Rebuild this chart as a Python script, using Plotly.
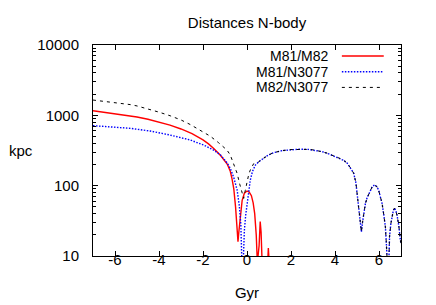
import plotly.graph_objects as go

# ---------------- data ----------------
series_names = ["M81/M82", "M81/N3077", "M82/N3077"]

t_red = [-7, -6, -5, -4.5, -4, -3.5, -3, -2.5, -2, -1.75, -1.5, -1.2, -0.9, -0.76,
         -0.68, -0.6, -0.52, -0.46, -0.41, -0.37, -0.3, -0.22, -0.12,
         0.0, 0.1, 0.2, 0.28, 0.35, 0.42, 0.47, 0.55, 0.6, 0.64, 0.68, 0.72, 0.9,
         0.94, 0.97, 1.0, 1.04, 7.0]
d_red = [1165, 1062, 946, 879, 806, 727, 640, 548, 448, 393, 334, 268, 203, 160,
         125, 90, 50, 25, 16, 22, 41, 62, 78,
         84, 81, 72, 57, 40, 20, 8, 14, 31, 22, 9, 4, 4,
         9, 13, 9, 3, 3]

t_blue = [-7, -6, -5.3, -4.4, -3.5, -2.58, -1.97, -1.52, -1.21, -0.91, -0.76, -0.6,
          -0.45, -0.35, -0.28, -0.24, -0.2, -0.16, -0.12, -0.06, 0.0, 0.08, 0.15,
          0.25, 0.38, 0.53, 0.7, 0.85, 1.0, 1.2, 1.6, 2.0, 2.4, 2.8, 3.1, 3.4, 3.64,
          3.85, 4.05, 4.24, 4.4, 4.55, 4.7, 4.85, 4.95, 5.05, 5.15, 5.2, 5.25, 5.3,
          5.38, 5.45, 5.6, 5.7, 5.8, 5.9, 5.98, 6.06, 6.14, 6.22, 6.29, 6.34, 6.39,
          6.42, 6.45, 6.48, 6.54, 6.59, 6.65, 6.7, 6.76, 6.82, 6.9, 6.97, 7.0]
d_blue = [713, 685, 653, 598, 525, 446, 378, 321, 274, 212, 177, 130,
          87, 52, 28, 10, 5, 10, 23, 38, 56, 88, 120,
          160, 196, 218, 240, 258, 275, 294, 315, 326, 330, 328, 320, 305, 290,
          272, 258, 243, 228, 210, 180, 150, 110, 60, 30, 22, 30, 41,
          55, 66, 87, 98, 102, 97, 87, 72, 56, 38, 26, 14, 5,
          4, 9, 19, 29, 36, 44, 48, 45, 38, 27, 17, 15]

t_black_head = [-7, -6, -5.3, -5, -4.4, -4, -3.49, -3, -2.58, -2.1, -1.67, -1.3, -0.91,
                -0.76, -0.6, -0.45, -0.33, -0.23, -0.15, -0.08, 0.0, 0.08, 0.15, 0.3,
                0.45]
d_black_head = [1650, 1530, 1420, 1360, 1210, 1110, 985, 860, 740, 610, 505, 410, 321,
                273, 205, 150, 105, 77, 66, 85, 114, 145, 167, 205,
                212]

# beyond ~0.5 Gyr M82/N3077 coincides with M81/N3077
t_black = t_black_head + [t for t in t_blue if t >= 0.53]
d_black = d_black_head + [d for t, d in zip(t_blue, d_blue) if t >= 0.53]

x_range = [-7, 7]
x_ticks = [-6, -4, -2, 0, 2, 4, 6]
y_ticks = [10, 100, 1000, 10000]

FONT = "Liberation Sans, Arial, sans-serif"
FS = 15
colors = ["#ff0000", "#0000ff", "#000000"]
dashes = ["solid", "1.5px,1.5px", "3px,4px"]
widths = [1.4, 1.4, 1.0]

# the page body has an 8px margin, so the figure is drawn 8px smaller
W, H = 428, 297
PLOT_H = H - 37 - 49

fig = go.Figure()
for name, t, d, c, ds, w in zip(series_names, [t_red, t_blue, t_black],
                                [d_red, d_blue, d_black], colors, dashes, widths):
    fig.add_trace(go.Scatter(x=t, y=d, mode="lines", name=name,
                             line=dict(color=c, dash=ds, width=w),
                             showlegend=False))
# empty trace so that the label-carrying second x axis gets drawn
fig.add_trace(go.Scatter(x=[], y=[], xaxis="x2", yaxis="y", showlegend=False,
                         hoverinfo="skip"))

# gnuplot-style key: right-aligned text with the line sample on its right
key_y = [0.948, 0.873, 0.799]
for name, c, ds, w, ky in zip(series_names, colors, dashes, widths, key_y):
    fig.add_annotation(x=0.772, y=ky, xref="paper", yref="paper", text=name,
                       showarrow=False, xanchor="right", yanchor="middle",
                       font=dict(family=FONT, size=14, color="black"))
    fig.add_shape(type="line", xref="paper", yref="paper", x0=0.808, x1=0.944,
                  y0=ky, y1=ky, line=dict(color=c, dash=ds, width=w))

fig.add_annotation(x=-0.234, y=0.5, xref="paper", yref="paper", text="kpc",
                   showarrow=False, xanchor="center", yanchor="middle",
                   font=dict(family=FONT, size=FS, color="black"))

fig.update_layout(
    width=W, height=H,
    margin=dict(l=85, r=35, t=37, b=49),
    paper_bgcolor="white", plot_bgcolor="white",
    font=dict(family=FONT, size=FS, color="black"),
    title=dict(text="Distances N-body", x=0.5, xref="paper", xanchor="center",
               y=1 - 15 / H, yanchor="middle", font=dict(family=FONT, size=FS)),
    xaxis=dict(
        range=x_range, tickvals=x_ticks, showticklabels=False,
        ticks="inside", ticklen=5, tickcolor="black", showline=True,
        linecolor="black", linewidth=1, mirror="ticks", showgrid=False,
        zeroline=False, automargin=False,
    ),
    # second x axis carries the tick labels, sitting closer to the frame
    xaxis2=dict(
        overlaying="x", range=x_range, anchor="free", position=7 / PLOT_H,
        side="bottom", showline=False, ticks="", showgrid=False, zeroline=False,
        tickvals=x_ticks, ticktext=[str(v) for v in x_ticks], automargin=False,
        title=dict(text="Gyr", standoff=20, font=dict(family=FONT, size=FS)),
    ),
    yaxis=dict(
        type="log", range=[1, 4], tickvals=y_ticks,
        ticktext=[str(v) for v in y_ticks],
        ticks="inside", ticklen=5, tickcolor="black", showline=True,
        linecolor="black", linewidth=1, mirror="ticks", showgrid=False,
        zeroline=False, ticklabelstandoff=10, automargin=False,
        minor=dict(ticks="inside", ticklen=3, tickcolor="black", dtick="D1",
                   showgrid=False),
    ),
)

fig.write_html("out.html")
